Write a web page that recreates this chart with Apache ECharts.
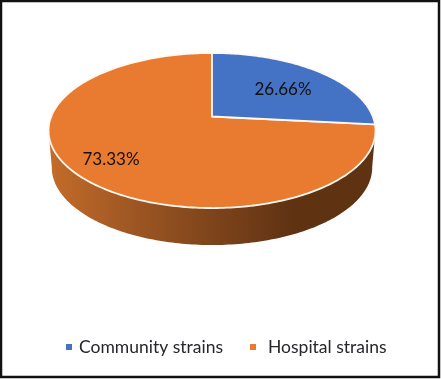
<!DOCTYPE html>
<html>
<head>
<meta charset="utf-8">
<style>html,body{margin:0;padding:0;background:#fff}#c{width:441px;height:379px}</style>
<script src="https://cdn.jsdelivr.net/npm/echarts@6/dist/echarts.min.js"></script>
</head>
<body>
<div id="c"></div>
<script>
var categories = ['Community strains', 'Hospital strains'];
var shareValues = [26.66, 73.33];
var sliceColors = ['#4472C4', '#E97B30'];
var total = shareValues[0] + shareValues[1];

// Projection of the tilted disc
var apexX = 212, apexY = 116.5, radX = 160.8, radY = 75, persp = 0.1806, depth = 37, baseScale = 0.98;
function project(deg, r, base) {
  var t = deg * Math.PI / 180, u = Math.sin(t) * r, v = Math.cos(t) * r, w = 1 + persp * v;
  var x = radX * u / w, y = -radY * v / w;
  return base ? [apexX + x * baseScale, apexY + y + depth] : [apexX + x, apexY + y];
}
function arc(from, to, base) {
  var pts = [], n = Math.max(2, Math.ceil(Math.abs(to - from)));
  for (var i = 0; i <= n; i++) pts.push(project(from + (to - from) * i / n, 1, base));
  return pts;
}
function sliceSeries(idx, labelPos, startShare, withWall) {
  return {
    type: 'custom', name: categories[idx], coordinateSystem: 'none', silent: true, animation: false,
    itemStyle: { color: sliceColors[idx] },
    data: [[shareValues[idx]]],
    renderItem: function (params, api) {
      var val = api.value(0);
      var a0 = startShare / total * 360, a1 = a0 + val / total * 360;
      var kids = [];
      if (withWall) {
        var wallFrom = Math.max(a0, 100), wallTo = Math.min(a1, 260);
        kids.push({
          type: 'polygon',
          shape: { points: arc(wallFrom, wallTo, false).concat(arc(wallTo, wallFrom, true)) },
          style: { fill: { type: 'linear', x: 0, y: 0, x2: 1, y2: 0, colorStops: [
            { offset: 0, color: '#C46C2A' }, { offset: 0.25, color: '#9F5723' },
            { offset: 0.5, color: '#7E441B' }, { offset: 0.75, color: '#5F3212' }, { offset: 1, color: '#5F3212' }
          ] } }
        });
      }
      kids.push({
        type: 'polygon',
        shape: { points: [[apexX, apexY]].concat(arc(a0, a1, false)) },
        style: { fill: sliceColors[idx], stroke: '#FDF8F2', lineWidth: 1.8, lineJoin: 'round' }
      });
      kids.push({
        type: 'text', z2: 10,
        style: { text: val.toFixed(2) + '%', x: labelPos[0], y: labelPos[1], fill: '#14100c',
                  font: '17px Lato', align: 'center', verticalAlign: 'middle' }
      });
      return { type: 'group', children: kids };
    }
  };
}
var legendText = { color: '#26262b', fontFamily: 'Lato', fontSize: 17.5 };
var chart = echarts.init(document.getElementById('c'), null, { renderer: 'canvas' });
chart.setOption({
  backgroundColor: '#fff',
  animation: false,
  legend: [
    { data: [categories[0]], left: 66, top: 338, padding: 0, itemWidth: 6, itemHeight: 6, icon: 'rect', selectedMode: false,
      textStyle: Object.assign({ padding: [0, 0, 0, 2] }, legendText) },
    { data: [categories[1]], left: 250, top: 338, padding: 0, itemWidth: 6, itemHeight: 6, icon: 'rect', selectedMode: false,
      textStyle: Object.assign({ padding: [0, 0, 0, 7] }, legendText) }
  ],
  graphic: [{ type: 'rect', silent: true, shape: { x: 1, y: 1, width: 438, height: 376 },
              style: { fill: 'none', stroke: '#111', lineWidth: 2.5 } }],
  series: [
    sliceSeries(1, [111, 160], shareValues[0], true),
    sliceSeries(0, [283, 90], 0, false)
  ]
});
</script>
</body>
</html>
